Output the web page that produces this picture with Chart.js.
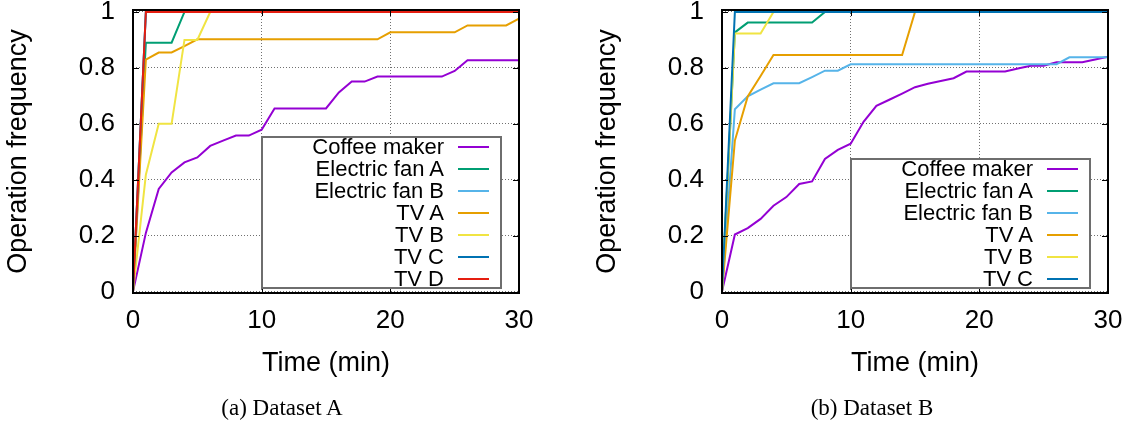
<!DOCTYPE html>
<html>
<head>
<meta charset="utf-8">
<script src="https://cdn.jsdelivr.net/npm/chart.js@4.4.0/dist/chart.umd.min.js"></script>
<style>
  html, body { margin: 0; padding: 0; background: #fff; }
  body { width: 1133px; height: 425px; position: relative; overflow: hidden;
         font-family: "Liberation Sans", Arial, Helvetica, sans-serif; }
  canvas { position: absolute; top: 0; }
  .caption { position: absolute; top: 396px; font-family: "Liberation Serif", "Times New Roman", serif;
             font-size: 23px; line-height: 23px; white-space: nowrap; transform: translateX(-50%); color: #000; }
  .legend { position: absolute; box-sizing: border-box; border: 2px solid #6e6e6e; background: #fff; }
  .legend .txt { position: absolute; left: 0; width: 181px; text-align: right; font-size: 22px;
                 line-height: 22px; height: 22px; white-space: nowrap; color: #000; }
  .legend .smp { position: absolute; left: 195px; width: 31px; height: 2px; }
</style>
</head>
<body>
<canvas id="chartA" width="589" height="425" style="left:0px"></canvas>
<canvas id="chartB" width="544" height="425" style="left:589px"></canvas>
<div class="caption" id="capA" style="left:282px">(a) Dataset A</div>
<div class="caption" id="capB" style="left:872px">(b) Dataset B</div>

<script>
// ---------- data ----------
const minutes = [0,1,2,3,4,5,6,7,8,9,10,11,12,13,14,15,16,17,18,19,20,21,22,23,24,25,26,27,28,29,30];
const xTickValues = [0, 10, 20, 30];
const xTickLabels = ["0", "10", "20", "30"];
const yTickValues = [0, 0.2, 0.4, 0.6, 0.8, 1];
const yTickLabels = ["0", "0.2", "0.4", "0.6", "0.8", "1"];
const xTitle = "Time (min)";
const yTitle = "Operation frequency";

const namesA = ["Coffee maker", "Electric fan A", "Electric fan B", "TV A", "TV B", "TV C", "TV D"];
const namesB = ["Coffee maker", "Electric fan A", "Electric fan B", "TV A", "TV B", "TV C"];
const seriesColors = ["#9400d3", "#009e73", "#56b4e9", "#e69f00", "#f0e442", "#0072b2", "#e51e10"];

// Dataset A
const coffeeMakerA = [0,0.21,0.367,0.426,0.462,0.48,0.521,0.54,0.558,0.558,0.579,0.655,0.655,0.655,0.655,0.655,0.712,0.751,0.751,0.769,0.769,0.769,0.769,0.769,0.769,0.789,0.827,0.827,0.827,0.827,0.827];
const electricFanAA = [0,0.89,0.89,0.89,1,1,1,1,1,1,1,1,1,1,1,1,1,1,1,1,1,1,1,1,1,1,1,1,1,1,1];
const electricFanBA = [0,1,1,1,1,1,1,1,1,1,1,1,1,1,1,1,1,1,1,1,1,1,1,1,1,1,1,1,1,1,1];
const tvAA = [0,0.83,0.855,0.855,0.878,0.902,0.902,0.902,0.902,0.902,0.902,0.902,0.902,0.902,0.902,0.902,0.902,0.902,0.902,0.902,0.927,0.927,0.927,0.927,0.927,0.927,0.952,0.952,0.952,0.952,0.976];
const tvBA = [0,0.418,0.6,0.6,0.9,0.9,1,1,1,1,1,1,1,1,1,1,1,1,1,1,1,1,1,1,1,1,1,1,1,1,1];
const tvCA = [0,1,1,1,1,1,1,1,1,1,1,1,1,1,1,1,1,1,1,1,1,1,1,1,1,1,1,1,1,1,1];
const tvDA = [0,1,1,1,1,1,1,1,1,1,1,1,1,1,1,1,1,1,1,1,1,1,1,1,1,1,1,1,1,1,1];

// Dataset B
const coffeeMakerB = [0,0.204,0.227,0.26,0.307,0.338,0.385,0.394,0.474,0.507,0.529,0.607,0.664,0.686,0.708,0.731,0.743,0.753,0.763,0.787,0.787,0.787,0.787,0.798,0.808,0.808,0.82,0.82,0.82,0.83,0.84];
const electricFanAB = [0,0.927,0.962,0.962,0.962,0.962,0.962,0.962,1,1,1,1,1,1,1,1,1,1,1,1,1,1,1,1,1,1,1,1,1,1,1];
const electricFanBB = [0,0.652,0.698,0.722,0.745,0.745,0.745,0.767,0.79,0.79,0.813,0.813,0.813,0.813,0.813,0.813,0.813,0.813,0.813,0.813,0.813,0.813,0.813,0.813,0.813,0.813,0.813,0.838,0.838,0.838,0.838];
const tvAB = [0,0.54,0.698,0.771,0.846,0.846,0.846,0.846,0.846,0.846,0.846,0.846,0.846,0.846,0.846,1,1,1,1,1,1,1,1,1,1,1,1,1,1,1,1];
const tvBB = [0,0.923,0.923,0.923,1,1,1,1,1,1,1,1,1,1,1,1,1,1,1,1,1,1,1,1,1,1,1,1,1,1,1];
const tvCB = [0,1,1,1,1,1,1,1,1,1,1,1,1,1,1,1,1,1,1,1,1,1,1,1,1,1,1,1,1,1,1];

const valuesA = [coffeeMakerA, electricFanAA, electricFanBA, tvAA, tvBA, tvCA, tvDA];
const valuesB = [coffeeMakerB, electricFanAB, electricFanBB, tvAB, tvBB, tvCB];

// ---------- rendering ----------
Chart.defaults.font.family = "'Liberation Sans', Arial, Helvetica, sans-serif";
Chart.defaults.color = "#000";

const framePlugin = {
  id: "frame",
  afterDraw(chart) {
    const { ctx, chartArea: a, scales } = chart;
    ctx.save();
    ctx.strokeStyle = "#000";
    ctx.lineWidth = 1;
    const tl = 6;
    ctx.beginPath();
    scales.y.ticks.forEach(t => {
      const py = Math.round(scales.y.getPixelForValue(t.value)) + 0.5;
      ctx.moveTo(a.left, py); ctx.lineTo(a.left + tl, py);
      ctx.moveTo(a.right, py); ctx.lineTo(a.right - tl, py);
    });
    scales.x.ticks.forEach(t => {
      const px = Math.round(scales.x.getPixelForValue(t.value)) + 0.5;
      ctx.moveTo(px, a.bottom); ctx.lineTo(px, a.bottom - tl);
      ctx.moveTo(px, a.top); ctx.lineTo(px, a.top + tl);
    });
    ctx.stroke();
    ctx.lineWidth = 2;
    ctx.strokeRect(a.left, a.top, a.right - a.left, a.bottom - a.top);
    ctx.restore();
  }
};

function labelFor(values, labels) {
  return (v) => {
    const i = values.findIndex(t => Math.abs(t - v) < 1e-9);
    return i >= 0 ? labels[i] : "";
  };
}

function buildChart(id, names, values, padRight) {
  const n = names.length;
  const datasets = names.map((name, i) => ({
    label: name,
    data: values[i],
    borderColor: seriesColors[i],
    backgroundColor: seriesColors[i],
    borderWidth: 2,
    pointRadius: 0,
    fill: false,
    tension: 0,
    order: n - i
  }));
  return new Chart(document.getElementById(id), {
    type: "line",
    data: { labels: minutes, datasets },
    options: {
      responsive: false,
      animation: false,
      devicePixelRatio: 1,
      layout: { padding: { top: 10, right: padRight, left: 0, bottom: 0 } },
      plugins: { legend: { display: false }, tooltip: { enabled: false } },
      scales: {
        x: {
          type: "linear", min: 0, max: 30,
          afterBuildTicks: s => { s.ticks = xTickValues.map(v => ({ value: v })); },
          afterFit: s => { s.height = 132; s.paddingLeft = 0; s.paddingRight = 0; },
          grid: { color: "#707070", lineWidth: 1, drawTicks: false },
          border: { display: false, dash: [1, 2] },
          ticks: { font: { size: 26 }, padding: 12, maxRotation: 0, color: "#000",
                   callback: labelFor(xTickValues, xTickLabels) },
          title: { display: true, text: xTitle, font: { size: 27 }, padding: { top: 0, bottom: 45 }, color: "#000" }
        },
        y: {
          type: "linear", min: -0.005, max: 1.007,
          afterBuildTicks: s => { s.ticks = yTickValues.map(v => ({ value: v })); },
          afterFit: s => { s.width = 133; s.paddingTop = 0; s.paddingBottom = 0; },
          grid: { color: "#707070", lineWidth: 1, drawTicks: false },
          border: { display: false, dash: [1, 2] },
          ticks: { font: { size: 26 }, padding: 18, color: "#000",
                   callback: labelFor(yTickValues, yTickLabels) },
          title: { display: true, text: yTitle, font: { size: 27 }, padding: { top: 2, bottom: 0 }, color: "#000" }
        }
      }
    },
    plugins: [framePlugin]
  });
}

function buildLegend(chart, canvasLeft) {
  const a = chart.chartArea;
  const ds = chart.data.datasets;
  const w = 241, rowH = 22;
  const h = (ds.length - 1) * rowH + 21;
  const box = document.createElement("div");
  box.className = "legend";
  box.style.left = (canvasLeft + a.right - 17 - w) + "px";
  box.style.top = (a.bottom - 4 - h) + "px";
  box.style.width = w + "px";
  box.style.height = h + "px";
  ds.forEach((d, i) => {
    const cy = 8.5 + i * rowH;
    const t = document.createElement("div");
    t.className = "txt";
    t.style.top = (cy - 11) + "px";
    t.textContent = d.label;
    box.appendChild(t);
    const s = document.createElement("div");
    s.className = "smp";
    s.style.top = (cy - 1) + "px";
    s.style.background = d.borderColor;
    box.appendChild(s);
  });
  document.body.appendChild(box);
}

const chartA = buildChart("chartA", namesA, valuesA, 70);
const chartB = buildChart("chartB", namesB, valuesB, 25);
buildLegend(chartA, 0);
buildLegend(chartB, 589);
</script>
</body>
</html>
